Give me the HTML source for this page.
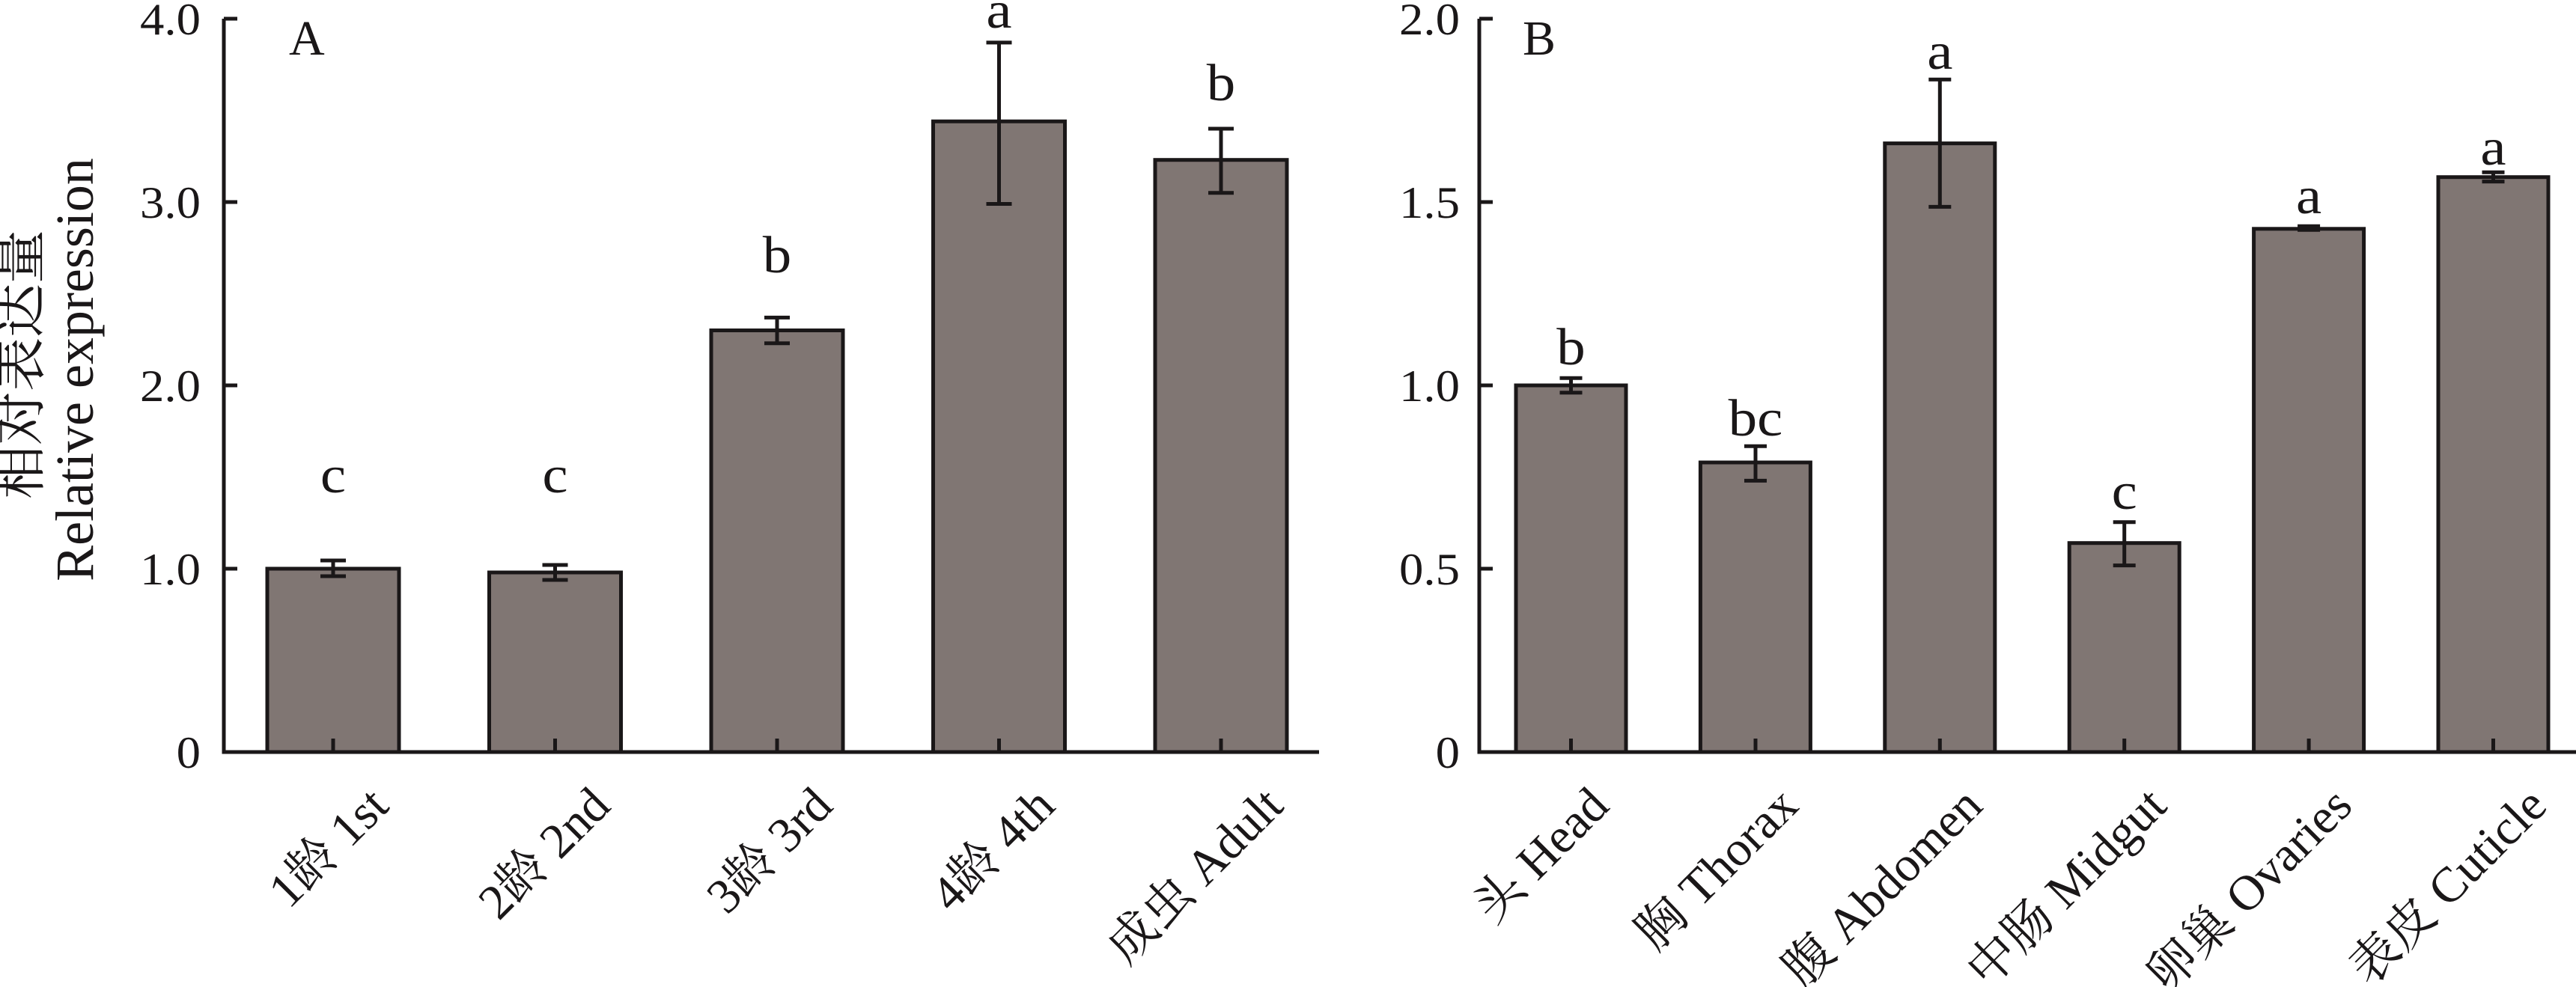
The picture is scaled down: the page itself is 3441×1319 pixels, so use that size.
<!DOCTYPE html>
<html><head><meta charset="utf-8"><style>
html,body{margin:0;padding:0;background:#fff;}
svg{display:block;}
text{font-family:"Liberation Serif","Noto Serif CJK SC","Noto Sans CJK SC",serif;fill:#1a1718;}
</style></head><body>
<svg width="3441" height="1319" viewBox="0 0 3441 1319" xmlns="http://www.w3.org/2000/svg">
<g stroke="#1a1718" stroke-width="5" fill="#807673">
<rect x="357" y="760" width="176" height="245"/>
<rect x="653.5" y="765" width="176" height="240"/>
<rect x="950" y="441.5" width="176" height="563.5"/>
<rect x="1246.5" y="162.2" width="176" height="842.8"/>
<rect x="1543" y="213.7" width="176" height="791.3"/>
<rect x="2025" y="515" width="147" height="490"/>
<rect x="2271.4" y="618" width="147" height="387"/>
<rect x="2517.8" y="191.6" width="147" height="813.4"/>
<rect x="2764.2" y="725.7" width="147" height="279.3"/>
<rect x="3010.6" y="305.8" width="147" height="699.2"/>
<rect x="3257" y="236.7" width="147" height="768.3"/>
</g>
<g stroke="#1a1718" stroke-width="5" fill="none">
<path d="M299 25V1005H1762"/>
<path d="M299 25h18M299 270h18M299 515h18M299 760h18"/>
<path d="M445 1005v-18M741.5 1005v-18M1038 1005v-18M1334.5 1005v-18M1631 1005v-18"/>
<path d="M445 749v21M428 749h34M428 770h34"/>
<path d="M741.5 755v20M724.5 755h34M724.5 775h34"/>
<path d="M1038 424.4v34.3M1021 424.4h34M1021 458.7h34"/>
<path d="M1334.5 56.9v215.6M1317.5 56.9h34M1317.5 272.5h34"/>
<path d="M1631 172v85.8M1614 172h34M1614 257.8h34"/>
<path d="M1976 25V1005H3441"/>
<path d="M1976 25h18M1976 270h18M1976 515h18M1976 760h18"/>
<path d="M2098.5 1005v-18M2345 1005v-18M2591.3 1005v-18M2837.7 1005v-18M3084.1 1005v-18M3330.5 1005v-18"/>
<path d="M2098.5 505.2v19.6M2083.5 505.2h30M2083.5 524.8h30"/>
<path d="M2345 596.3v46.1M2330 596.3h30M2330 642.4h30"/>
<path d="M2591.3 106.3v170.1M2576.3 106.3h30M2576.3 276.4h30"/>
<path d="M2837.7 697.8v57.8M2822.7 697.8h30M2822.7 755.6h30"/>
<path d="M3084.1 302.3v4.9M3069.1 302.3h30M3069.1 307.2h30"/>
<path d="M3330.5 230.3v12.3M3315.5 230.3h30M3315.5 242.6h30"/>
</g>

<g font-size="60" text-anchor="end">
<text transform="translate(268 46) scale(1.08 1)">4.0</text>
<text transform="translate(268 291) scale(1.08 1)">3.0</text>
<text transform="translate(268 536) scale(1.08 1)">2.0</text>
<text transform="translate(268 781) scale(1.08 1)">1.0</text>
<text transform="translate(268 1026) scale(1.08 1)">0</text>
<text transform="translate(1950 46) scale(1.08 1)">2.0</text>
<text transform="translate(1950 291) scale(1.08 1)">1.5</text>
<text transform="translate(1950 536) scale(1.08 1)">1.0</text>
<text transform="translate(1950 781) scale(1.08 1)">0.5</text>
<text transform="translate(1950 1026) scale(1.08 1)">0</text>
</g>
<text font-size="66" x="386" y="73">A</text>
<text font-size="66" x="2034" y="73">B</text>
<text font-size="72" text-anchor="middle" transform="translate(52 487) rotate(-90)">相对表达量</text>
<text font-size="72" text-anchor="middle" transform="translate(124 494) rotate(-90)">Relative expression</text>
<g font-size="70" text-anchor="middle">
<text transform="translate(445 658) scale(1.1 1)">c</text>
<text transform="translate(741.5 658) scale(1.1 1)">c</text>
<text transform="translate(1038 364) scale(1.1 1)">b</text>
<text transform="translate(1334.5 37) scale(1.1 1)">a</text>
<text transform="translate(1631 134) scale(1.1 1)">b</text>
<text transform="translate(2098.5 487) scale(1.1 1)">b</text>
<text transform="translate(2345 582) scale(1.1 1)">bc</text>
<text transform="translate(2591.3 92) scale(1.1 1)">a</text>
<text transform="translate(2837.7 680) scale(1.1 1)">c</text>
<text transform="translate(3084.1 285) scale(1.1 1)">a</text>
<text transform="translate(3330.5 220) scale(1.1 1)">a</text>
</g>
<g font-size="66" text-anchor="end">
<text transform="translate(522 1080) rotate(-45)">1龄 1st</text>
<text transform="translate(818 1080) rotate(-45)">2龄 2nd</text>
<text transform="translate(1115 1080) rotate(-45)">3龄 3rd</text>
<text transform="translate(1412 1080) rotate(-45)">4龄 4th</text>
<text transform="translate(1717 1080) rotate(-45)">成虫 Adult</text>
<text transform="translate(2152 1080) rotate(-45)">头 Head</text>
<text transform="translate(2405 1080) rotate(-45)">胸 Thorax</text>
<text transform="translate(2651 1080) rotate(-45)">腹 Abdomen</text>
<text transform="translate(2897 1080) rotate(-45)">中肠 Midgut</text>
<text transform="translate(3145 1080) rotate(-45)">卵巢 Ovaries</text>
<text transform="translate(3405 1080) rotate(-45)">表皮 Cuticle</text>
</g>
</svg>
</body></html>
